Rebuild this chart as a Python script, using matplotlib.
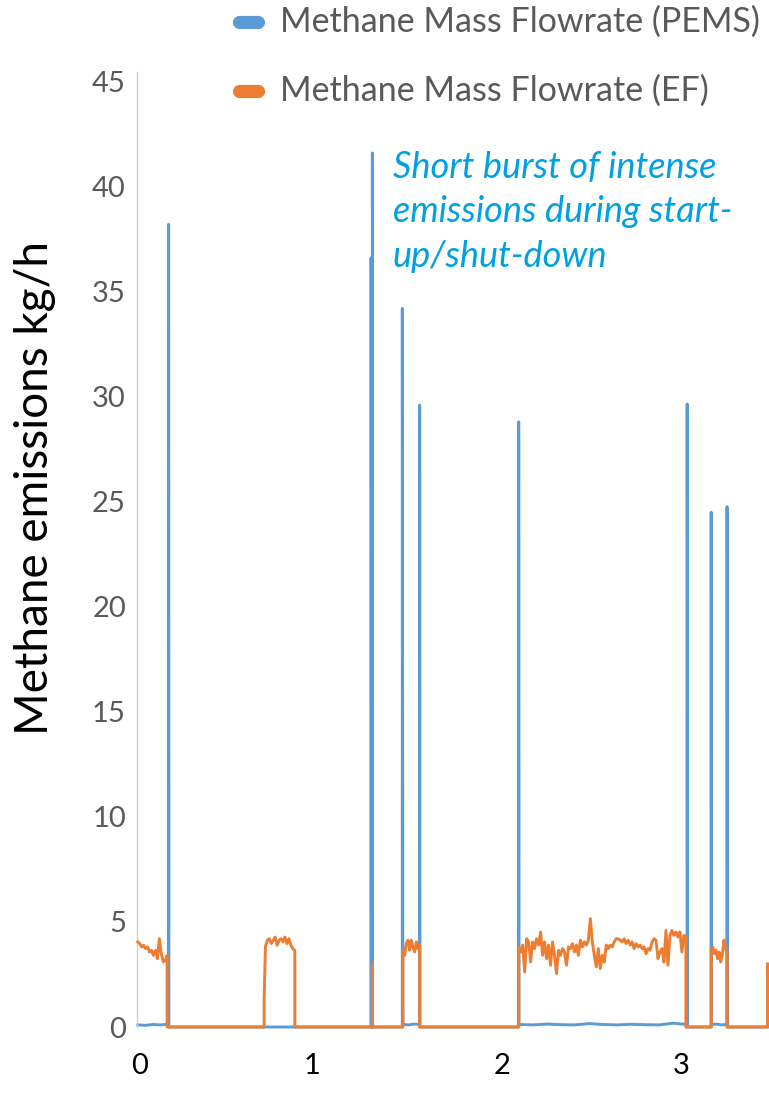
import numpy as np
import matplotlib.pyplot as plt
from matplotlib.lines import Line2D

plt.rcParams['font.family'] = ['Lato', 'DejaVu Sans']

BLUE = '#5B9BD5'
ORANGE = '#ED7D31'

# time axis in hours
x_ticks = [0.0, 0.93, 1.962, 2.93]
x_labels = ['0', '1', '2', '3']

# PEMS spikes at start-up / shut-down (time h, peak kg/h)
spike_t = [0.155, 1.251, 1.258, 1.420, 1.514, 2.050, 2.962, 3.092, 3.178]
spike_v = [38.2, 36.6, 41.6, 34.2, 29.6, 28.8, 29.65, 24.5, 24.76]

# engine-on periods (start h, end h) and EF methane values kg/h
on_a = (-0.012, 0.147)
ef_a = [4.05, 3.97, 3.81, 3.89, 3.73, 3.81, 3.57, 3.65, 3.41, 3.65, 3.25, 4.2,
        3.49, 3.1, 3.17, 3.41]

on_b = (0.679, 0.838)
ef_b = [3.81, 4.13, 4.2, 3.97, 4.13, 4.28, 3.89, 4.13, 4.2, 4.05, 4.28, 3.97,
        4.2, 3.89, 3.73, 3.65]

on_c = (1.423, 1.514)
ef_c = [3.65, 3.41, 3.97, 4.13, 3.65, 4.13, 3.81, 3.57, 4.05, 3.73, 3.89]

on_d = (2.050, 2.955)
ef_d = [3.8, 3.57, 3.9, 2.62, 4.2, 4.05, 3.1, 4.05, 3.73, 4.2, 3.9, 4.52,
        3.41, 4.05, 3.25, 3.9, 2.94, 4.05, 3.41, 2.54, 3.65, 3.41, 3.73, 3.57,
        2.94, 3.81, 3.73, 3.97, 3.57, 3.9, 3.41, 4.13, 3.81, 4.05, 3.9, 4.13,
        5.16, 4.05, 3.41, 2.86, 3.73, 2.78, 3.41, 3.09, 3.9, 3.73, 3.9, 3.81,
        4.05, 4.2, 4.2, 4.13, 4.05, 4.2, 3.97, 4.13, 3.9, 4.05, 3.73, 3.97,
        3.81, 3.9, 3.73, 3.81, 3.49, 3.73, 3.65, 4.05, 4.2, 4.13, 3.25, 3.57,
        3.73, 3.09, 4.6, 2.94, 4.36, 4.6, 4.36, 4.52, 4.28, 4.52, 3.57, 4.36,
        4.28]

on_e = (3.092, 3.178)
ef_e = [3.65, 3.81, 3.49, 3.65, 3.25, 3.57, 3.1, 3.41, 4.13, 3.81, 3.41]

# single EF readings outside the blocks
ef_pt_t = [0.672, 1.258, 3.397]
ef_pt_v = [1.35, 3.0, 3.0]

# PEMS baseline while running
pems_a = [0.1, 0.08, 0.12, 0.1, 0.14]
pems_c = [0.12, 0.1, 0.14, 0.12]
pems_d = [0.12, 0.1, 0.14, 0.11, 0.1, 0.16, 0.12, 0.1, 0.13, 0.11, 0.1, 0.18,
          0.12]
pems_e = [0.12, 0.14, 0.1, 0.12]

x_end = 3.405


def block(span, vals):
    return list(np.linspace(span[0], span[1], len(vals))), list(vals)


# ---- EF series
t_ef, v_ef = block(on_a, ef_a)
t_ef += [on_a[1], ef_pt_t[0]]
v_ef += [0, 0]
tb, vb = block(on_b, ef_b)
t_ef += [ef_pt_t[0], ef_pt_t[0]] + tb + [on_b[1], ef_pt_t[1], ef_pt_t[1], ef_pt_t[1]]
v_ef += [ef_pt_v[0], ef_pt_v[0]] + vb + [0, 0, ef_pt_v[1], 0]
for span, vals in [(on_c, ef_c), (on_d, ef_d), (on_e, ef_e)]:
    tb, vb = block(span, vals)
    t_ef += [span[0]] + tb + [span[1]]
    v_ef += [0] + vb + [0]
t_ef += [ef_pt_t[2], ef_pt_t[2]]
v_ef += [0, ef_pt_v[2]]

# ---- PEMS series
t_p, v_p = block((on_a[0], spike_t[0]), pems_a)
t_p += [spike_t[0], spike_t[0] + 0.001]
v_p += [spike_v[0], 0]
for i in (1, 2):
    t_p += [spike_t[i], spike_t[i], spike_t[i] + 0.001]
    v_p += [0, spike_v[i], 0]
t_p += [spike_t[3], spike_t[3]]
v_p += [0, spike_v[3]]
tb, vb = block((on_c[0], spike_t[4]), pems_c)
t_p += tb + [spike_t[4], spike_t[4] + 0.001, spike_t[5], spike_t[5]]
v_p += vb + [spike_v[4], 0, 0, spike_v[5]]
tb, vb = block((on_d[0] + 0.001, spike_t[6]), pems_d)
t_p += tb + [spike_t[6], spike_t[6] + 0.001, spike_t[7], spike_t[7]]
v_p += vb + [spike_v[6], 0, 0, spike_v[7]]
tb, vb = block((on_e[0] + 0.001, spike_t[8]), pems_e)
t_p += tb + [spike_t[8], spike_t[8] + 0.001, x_end]
v_p += vb + [spike_v[8], 0, 0]

fig = plt.figure(figsize=(7.69, 11.17), dpi=100)
W, H = 769, 1117
ax = fig.add_axes([137 / W, (H - 1027) / H, (W - 137) / W, (1027 - 72) / H])

ax.plot(t_p, v_p, color=BLUE, lw=2.1, clip_on=False, zorder=2)
ax.plot(t_ef, v_ef, color=ORANGE, lw=2.1, clip_on=False, zorder=3)

ax.set_xlim(-0.0162, x_end)
ax.set_ylim(0, 45.45)
ax.set_yticks(np.arange(0, 46, 5))
ax.set_xticks(x_ticks)
ax.set_xticklabels(x_labels)
ax.tick_params(axis='y', length=0, pad=8, labelsize=21, labelcolor='#595959')
ax.tick_params(axis='x', length=0, pad=19, labelsize=21, labelcolor='black')
for s in ['top', 'right', 'bottom']:
    ax.spines[s].set_visible(False)
ax.spines['left'].set_color('#D0D0D0')
ax.spines['left'].set_linewidth(1.0)

fig.text(35 / W, 1 - 488 / H, 'Methane emissions kg/h', rotation=90,
         ha='center', va='center', fontsize=33, color='black')

fig.text(393 / W, 1 - 151 / H,
         'Short burst of intense\nemissions during start-\nup/shut-down',
         ha='left', va='top', style='italic', fontsize=26,
         color='#00A0E3', linespacing=1.42)

# legend
for yy, col, lab in [(22, BLUE, 'Methane Mass Flowrate (PEMS)'),
                     (91, ORANGE, 'Methane Mass Flowrate (EF)')]:
    fig.add_artist(Line2D([239 / W, 258 / W], [1 - yy / H, 1 - yy / H],
                          color=col, lw=9.5, solid_capstyle='round'))
    fig.text(280 / W, 1 - yy / H, lab, ha='left', va='center', fontsize=24.5,
             color='#595959')

fig.savefig('out.png', dpi=100)
